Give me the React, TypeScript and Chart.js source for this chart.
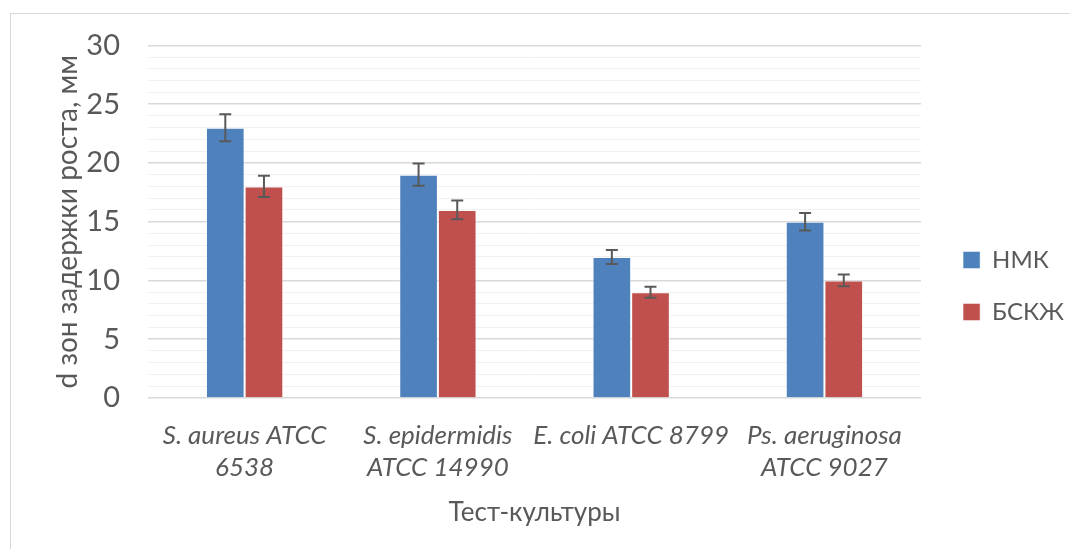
import React, { useEffect, useRef } from "react";
import { Chart, registerables } from "chart.js";

Chart.register(...registerables);

const categories: (string | string[])[] = [
  ["S. aureus ATCC", "6538"],
  ["S. epidermidis", "ATCC 14990"],
  "E. coli ATCC 8799",
  ["Ps. aeruginosa", "ATCC 9027"],
];
const seriesNames = ["НМК", "БСКЖ"];
const nmkValues = [23, 19, 12, 15];
const bskzhValues = [18, 16, 9, 10];
const nmkErrors = [1.15, 0.95, 0.6, 0.75];
const bskzhErrors = [0.9, 0.8, 0.47, 0.5];
const yTitle = "d зон задержки роста, мм";
const xTitle = "Тест-культуры";

const FONT = "Lato, 'Liberation Sans', sans-serif";
const TXT = "#595959";

const errorBarPlugin = {
  id: "errorBars",
  afterDatasetsDraw(chart: any) {
    const ctx = chart.ctx;
    const yScale = chart.scales.y;
    const errs = [nmkErrors, bskzhErrors];
    chart.data.datasets.forEach((ds: any, di: number) => {
      const meta = chart.getDatasetMeta(di);
      meta.data.forEach((bar: any, i: number) => {
        const v = ds.data[i];
        const e = errs[di][i];
        const yt = yScale.getPixelForValue(v + e);
        const yb = yScale.getPixelForValue(v - e);
        const x = bar.x;
        ctx.save();
        ctx.strokeStyle = "#595959";
        ctx.lineWidth = 2;
        ctx.beginPath();
        ctx.moveTo(x, yt);
        ctx.lineTo(x, yb);
        ctx.moveTo(x - 6, yt);
        ctx.lineTo(x + 6, yt);
        ctx.moveTo(x - 6, yb);
        ctx.lineTo(x + 6, yb);
        ctx.stroke();
        ctx.restore();
      });
    });
  },
};

export default function App() {
  const ref = useRef<HTMLCanvasElement>(null);
  useEffect(() => {
    document.body.style.margin = "0";
    const chart = new Chart(ref.current!, {
      type: "bar",
      data: {
        labels: categories as any,
        datasets: [
          {
            label: seriesNames[0],
            data: nmkValues,
            backgroundColor: "#4F81BD",
            borderColor: "rgba(255,255,255,0.45)",
            borderWidth: 1,
            categoryPercentage: 0.4,
            barPercentage: 1,
          },
          {
            label: seriesNames[1],
            data: bskzhValues,
            backgroundColor: "#C0504D",
            borderColor: "rgba(255,255,255,0.45)",
            borderWidth: 1,
            categoryPercentage: 0.4,
            barPercentage: 1,
          },
        ],
      },
      options: {
        responsive: false,
        animation: false,
        layout: { padding: { left: 51, top: 31, right: -4, bottom: 18 } },
        plugins: {
          tooltip: { enabled: false },
          legend: {
            position: "right",
            title: { display: true, text: "", font: { size: 8, lineHeight: 1.25 }, padding: 0 },
            labels: {
              boxWidth: 17,
              boxHeight: 17,
              padding: 28,
              color: TXT,
              font: { family: FONT, size: 24 },
            },
          },
        },
        scales: {
          x: {
            grid: { display: false },
            border: { display: false },
            afterFit: (s: any) => {
              s.height = 133;
            },
            ticks: {
              color: TXT,
              font: { family: FONT, size: 26, style: "italic", lineHeight: 1.25 },
              padding: 13,
              maxRotation: 0,
              autoSkip: false,
            },
            title: {
              display: true,
              text: xTitle,
              color: TXT,
              font: { family: FONT, size: 26 },
              padding: { top: 0, bottom: 3 },
            },
          },
          y: {
            min: 0,
            max: 30,
            border: { display: false },
            afterFit: (s: any) => {
              s.width = 97;
            },
            grid: {
              drawTicks: false,
              color: (c: any) => (c.tick && c.tick.value % 5 === 0 ? "#d9d9d9" : "#f0f0f0"),
              lineWidth: (c: any) => (c.tick && c.tick.value % 5 === 0 ? 1.5 : 1),
            },
            ticks: {
              stepSize: 1,
              maxTicksLimit: 40,
              autoSkip: false,
              padding: 28,
              color: TXT,
              font: { family: FONT, size: 29 },
              callback: (v: any) => (Number(v) % 5 === 0 ? String(v) : ""),
            },
            title: {
              display: true,
              text: yTitle,
              color: TXT,
              font: { family: FONT, size: 28 },
              padding: { top: 0, bottom: 4 },
            },
          },
          spacer: {
            type: "linear",
            position: "right",
            display: true,
            grid: { display: false },
            border: { display: false },
            ticks: { display: false },
            afterFit: (s: any) => {
              s.width = 14;
            },
          },
        },
      },
      plugins: [errorBarPlugin],
    });
    return () => chart.destroy();
  }, []);
  return (
    <div style={{ position: "fixed", left: 0, top: 0, width: 1070, height: 549, background: "#fff" }}>
      <div
        style={{
          position: "absolute",
          left: 10,
          top: 13,
          width: 1070,
          height: 549,
          borderLeft: "1px solid #d9d9d9",
          borderTop: "1px solid #d9d9d9",
        }}
      />
      <canvas ref={ref} width={1070} height={549} style={{ position: "absolute", left: 0, top: 0 }} />
    </div>
  );
}
